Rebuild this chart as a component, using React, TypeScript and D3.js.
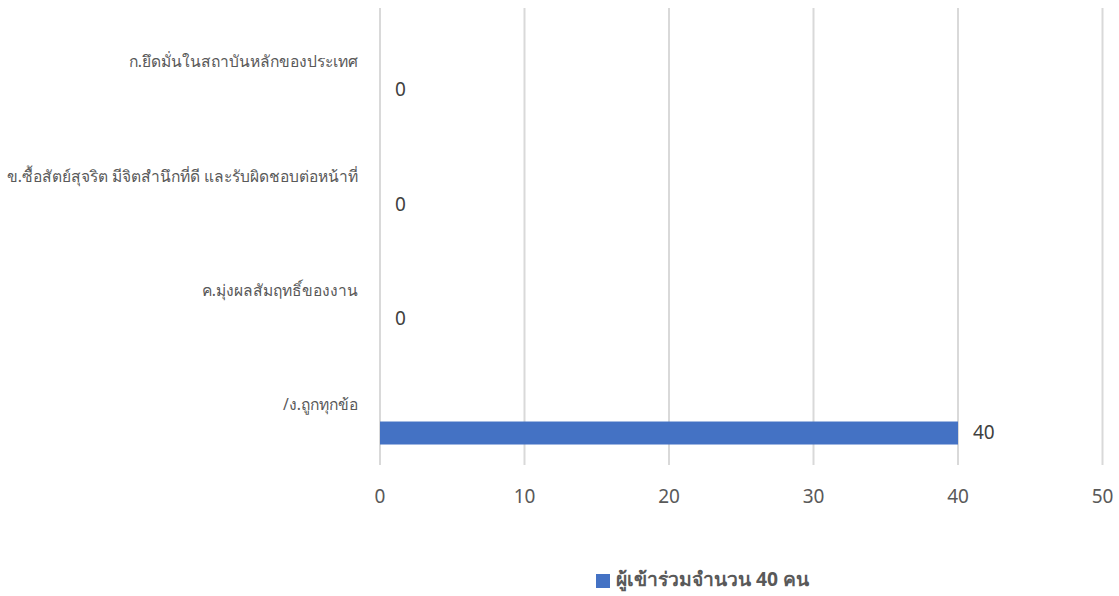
import React from "react";
import * as d3 from "d3";

const categories = [
  "ก.ยึดมั่นในสถาบันหลักของประเทศ",
  "ข.ซื้อสัตย์สุจริต มีจิตสำนึกที่ดี และรับผิดชอบต่อหน้าที่",
  "ค.มุ่งผลสัมฤทธิ์ของงาน",
  "/ง.ถูกทุกข้อ",
];
const values = [0, 0, 0, 40];
const xTicks = [0, 10, 20, 30, 40, 50];
const seriesName = "ผู้เข้าร่วมจำนวน 40 คน";

const W = 1119;
const H = 596;
const left = 380;
const right = 1102.5;
const top = 8;
const bottom = 465;
const font = "'Noto Sans', 'Open Sans', 'DejaVu Sans', sans-serif";

export default function App() {
  const x = d3.scaleLinear().domain([0, 50]).range([left, right]);
  const y = d3.scaleBand<string>().domain(categories).range([top, bottom]).padding(0);
  const bw = y.bandwidth();
  const barH = 23;
  const barOffset = 0.22 * bw;

  return (
    <svg width={W} height={H} style={{ position: "absolute", left: 0, top: 0, background: "#fff" }}>
      {xTicks.map((t) => (
        <line key={"g" + t} x1={x(t)} x2={x(t)} y1={top} y2={bottom} stroke="#d9d9d9" strokeWidth={2} />
      ))}
      {categories.map((c, i) => {
        const cy = (y(c) as number) + bw / 2;
        const by = cy + barOffset - barH / 2;
        return (
          <g key={c}>
            <text x={358} y={cy - 2} textAnchor="end" fontFamily={font} fontSize={15.6} fill="#595959" dominantBaseline="middle">
              {c}
            </text>
            {values[i] > 0 && (
              <rect x={x(0)} y={by} width={x(values[i]) - x(0)} height={barH} fill="#4472c4" />
            )}
            <text x={x(values[i]) + 15} y={cy + barOffset + 1} fontFamily={font} fontSize={19} fill="#404040" dominantBaseline="middle">
              {values[i]}
            </text>
          </g>
        );
      })}
      {xTicks.map((t) => (
        <text key={"t" + t} x={x(t)} y={498} textAnchor="middle" fontFamily={font} fontSize={19} fill="#595959" dominantBaseline="middle">
          {t}
        </text>
      ))}
      <rect x={596} y={574} width={14} height={14} fill="#4472c4" />
      <text x={616} y={581} fontFamily={font} fontSize={19.3} fontWeight="bold" fill="#595959" dominantBaseline="middle">
        {seriesName}
      </text>
    </svg>
  );
}
